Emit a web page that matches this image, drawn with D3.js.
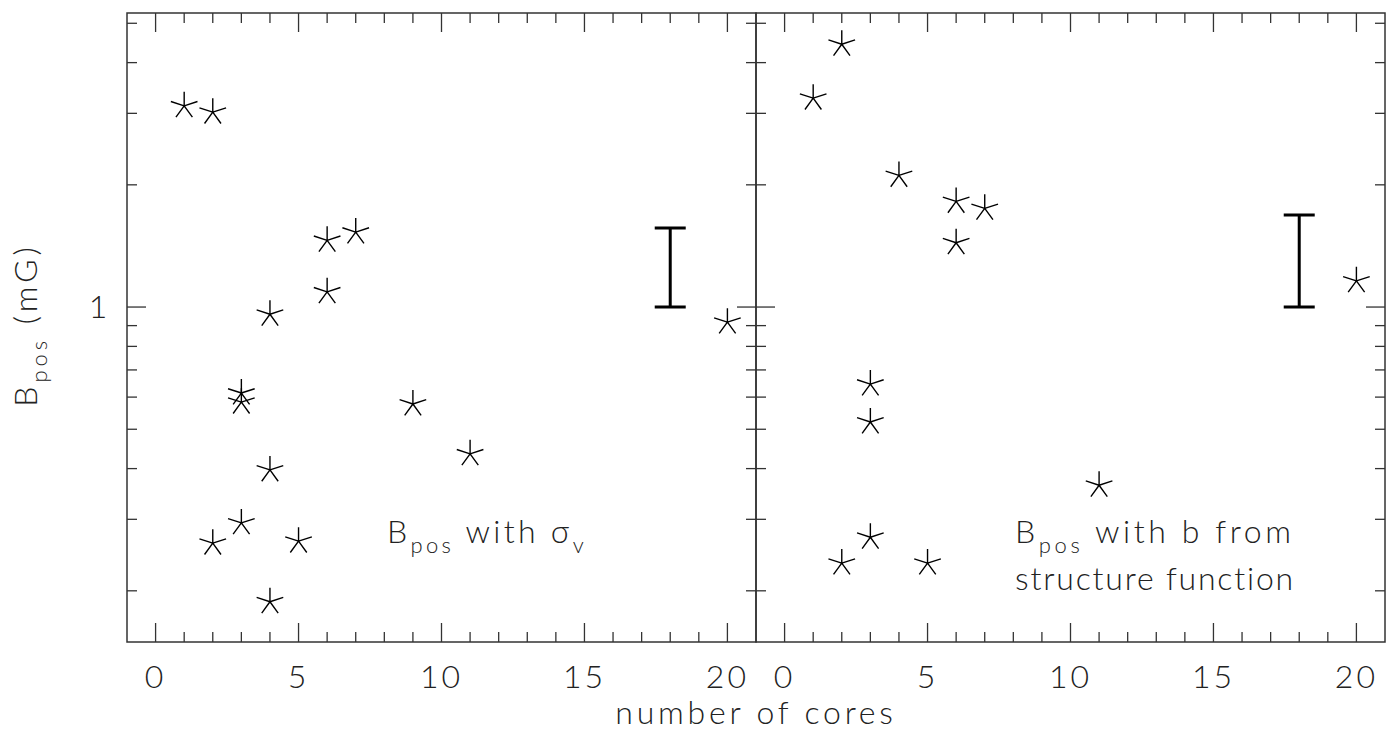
<!DOCTYPE html>
<html><head><meta charset="utf-8">
<script src="https://cdn.jsdelivr.net/npm/d3@7/dist/d3.min.js"></script>
<style>
body{margin:0;background:#fff;}
text{font-family:"Lato","Liberation Sans","DejaVu Sans",sans-serif;font-weight:300;fill:#222;}
</style></head>
<body><svg id="c" width="1397" height="731"></svg>
<script>
// ---- data ----
const leftCores = [1, 2, 6, 7, 6, 4, 20, 3, 3, 9, 11, 4, 3, 2, 5, 4];
const leftB     = [3.13, 3.02, 1.46, 1.53, 1.09, 0.96, 0.918, 0.614, 0.583, 0.577, 0.435, 0.397, 0.294, 0.262, 0.265, 0.188];
const rightCores = [1, 2, 4, 6, 7, 6, 20, 3, 3, 11, 3, 2, 5];
const rightB     = [3.27, 4.44, 2.11, 1.82, 1.75, 1.44, 1.16, 0.646, 0.521, 0.364, 0.271, 0.234, 0.234];
const errX = [18, 18];
const errLow = [1.0, 1.0];
const errHigh = [1.566, 1.685];
const xTickValues = d3.range(0, 21);
const xTickLabels = [0, 5, 10, 15, 20];
const yTickValues = [0.2, 0.3, 0.4, 0.5, 0.6, 0.7, 0.8, 0.9, 1, 2, 3, 4, 5];
const yTickLabels = [1];
const xDomain = [-1, 21];
const yDomain = [0.1496, 5.3];

// ---- layout ----
const svg = d3.select("#c");
const plotTop = 13, plotBottom = 642;
const y = d3.scaleLog().domain(yDomain).range([plotBottom, plotTop]);
const panels = [
  {x: d3.scaleLinear().domain(xDomain).range([127, 756]), cores: leftCores, B: leftB, ei: 0},
  {x: d3.scaleLinear().domain(xDomain).range([756, 1385]), cores: rightCores, B: rightB, ei: 1}
];
const lineColor = "#333";
const minorLen = 10, majorLen = 19;

function star(g, cx, cy, R) {
  let d = "";
  for (let k = 0; k < 5; k++) {
    const a = (-90 + 72 * k) * Math.PI / 180;
    d += `M${cx},${cy}L${cx + R * Math.cos(a)},${cy + R * Math.sin(a)}`;
  }
  g.append("path").attr("d", d).attr("stroke", "#000").attr("stroke-width", 1.4).attr("fill", "none");
}

panels.forEach((p, i) => {
  const g = svg.append("g");
  const [x0, x1] = p.x.range();
  g.append("rect").attr("x", x0).attr("y", plotTop).attr("width", x1 - x0).attr("height", plotBottom - plotTop)
    .attr("fill", "none").attr("stroke", lineColor).attr("stroke-width", 1.5);
  xTickValues.forEach(v => {
    const L = v % 5 === 0 ? majorLen : minorLen;
    const xx = p.x(v);
    g.append("line").attr("x1", xx).attr("x2", xx).attr("y1", plotBottom).attr("y2", plotBottom - L)
      .attr("stroke", lineColor).attr("stroke-width", 1.3);
    g.append("line").attr("x1", xx).attr("x2", xx).attr("y1", plotTop).attr("y2", plotTop + L)
      .attr("stroke", lineColor).attr("stroke-width", 1.3);
  });
  xTickLabels.forEach(v => {
    g.append("text").attr("x", p.x(v)).attr("y", 688).attr("text-anchor", "middle")
      .attr("font-size", 32).attr("letter-spacing", 3).text(v);
  });
  yTickValues.forEach(v => {
    const L = yTickLabels.includes(v) ? majorLen : minorLen;
    const yy = y(v);
    g.append("line").attr("x1", x0).attr("x2", x0 + L).attr("y1", yy).attr("y2", yy)
      .attr("stroke", lineColor).attr("stroke-width", 1.3);
    g.append("line").attr("x1", x1).attr("x2", x1 - L).attr("y1", yy).attr("y2", yy)
      .attr("stroke", lineColor).attr("stroke-width", 1.3);
  });
  p.cores.forEach((c, k) => star(g, p.x(c), y(p.B[k]), 14));
  const ex = p.x(errX[p.ei]), ylo = y(errLow[p.ei]), yhi = y(errHigh[p.ei]);
  g.append("path").attr("d", `M${ex},${ylo}L${ex},${yhi}M${ex - 15.5},${ylo}L${ex + 15.5},${ylo}M${ex - 15.5},${yhi}L${ex + 15.5},${yhi}`)
    .attr("stroke", "#000").attr("stroke-width", 3).attr("fill", "none");
});

yTickLabels.forEach(v => {
  svg.append("text").attr("x", 98).attr("y", y(v) + 11).attr("text-anchor", "middle")
    .attr("font-size", 32).text(v);
});

const yt = svg.append("text").attr("transform", "translate(37,325) rotate(-90)")
  .attr("text-anchor", "middle").attr("font-size", 32).attr("letter-spacing", 4);
yt.append("tspan").text("B");
yt.append("tspan").attr("font-size", 22).attr("dy", 10).text("pos");
yt.append("tspan").attr("dy", -10).text(" (mG)");

svg.append("text").attr("x", 756).attr("y", 724).attr("text-anchor", "middle")
  .attr("font-size", 32).attr("letter-spacing", 3.8).text("number of cores");

function label(xx, yy, after, ls) {
  const t = svg.append("text").attr("x", xx).attr("y", yy).attr("font-size", 32).attr("letter-spacing", ls);
  t.append("tspan").text("B");
  t.append("tspan").attr("font-size", 22).attr("dy", 10).text("pos");
  t.append("tspan").attr("dy", -10).text(after);
  return t;
}
const a1 = label(387, 543, " with σ", 3.3);
a1.append("tspan").attr("font-size", 22).attr("dy", 10).text("v");
label(1015, 543, " with b from", 3.6);
svg.append("text").attr("x", 1015).attr("y", 590).attr("font-size", 32).attr("letter-spacing", 1.8)
  .text("structure function");
</script></body></html>
